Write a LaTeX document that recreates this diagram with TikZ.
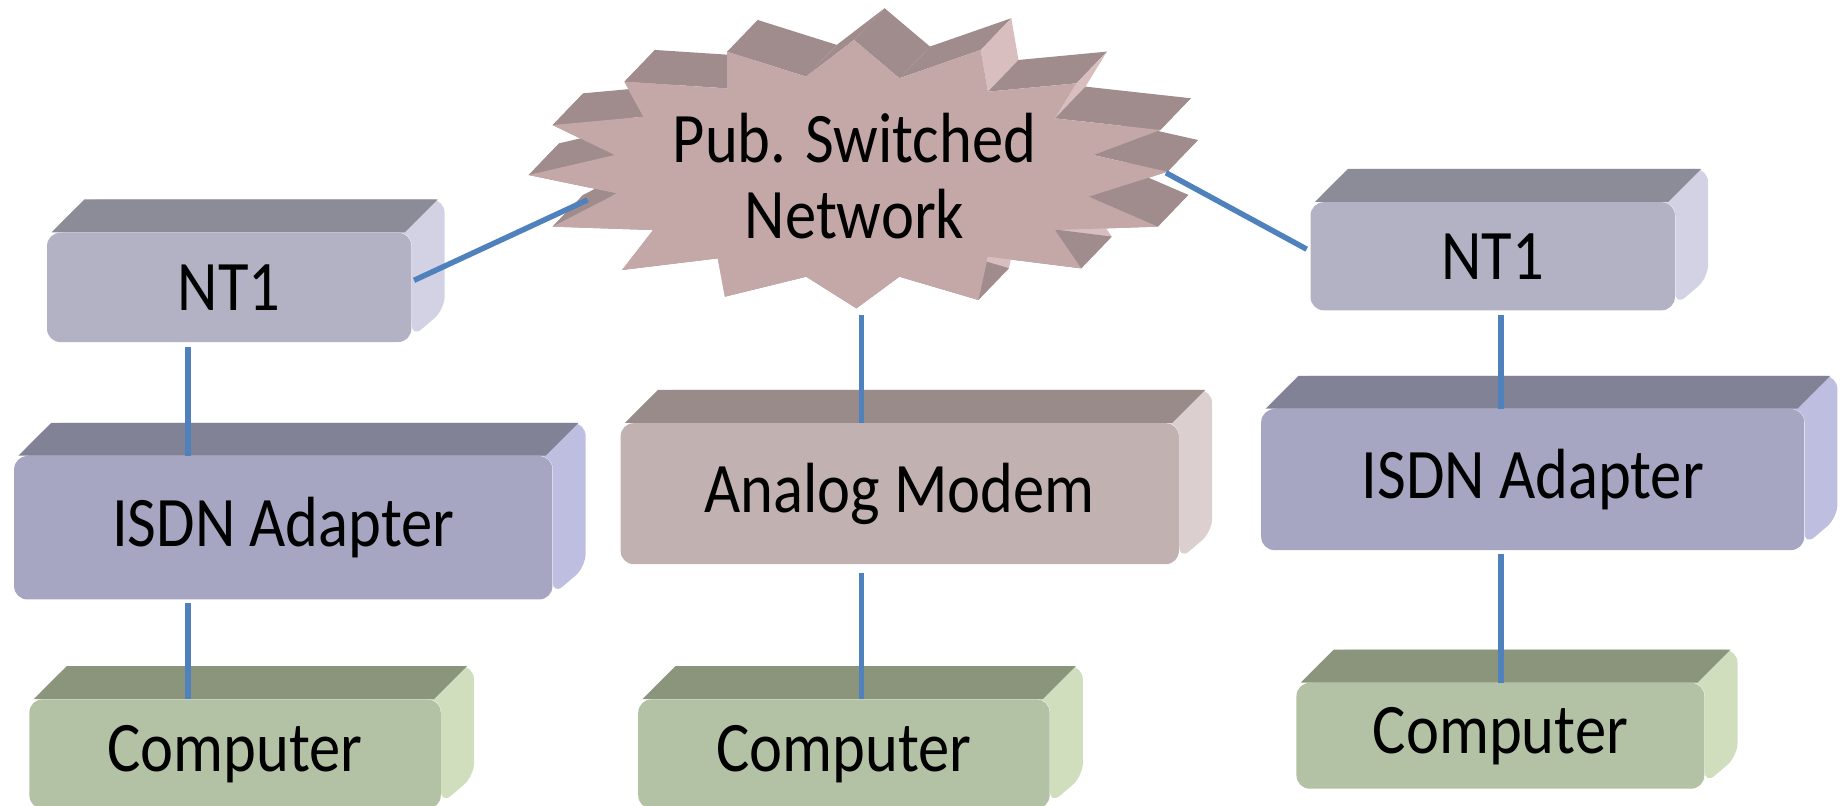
\documentclass[tikz,border=0pt]{standalone}
\usepackage{fontspec}
\setmainfont{Carlito}[FakeStretch=0.88]
\usetikzlibrary{backgrounds,calc}
\definecolor{linkblue}{HTML}{4F81BD}
\definecolor{ntfront}{HTML}{B3B2C4}
\definecolor{nttop}{HTML}{8C8B98}
\definecolor{ntside}{HTML}{D2D2E4}
\definecolor{isfront}{HTML}{A6A6C3}
\definecolor{istop}{HTML}{828297}
\definecolor{isside}{HTML}{BEBFE0}
\definecolor{mofront}{HTML}{C2B1B1}
\definecolor{motop}{HTML}{9A8B8B}
\definecolor{moside}{HTML}{DCCFCF}
\definecolor{cofront}{HTML}{B3C2A5}
\definecolor{cotop}{HTML}{8B957B}
\definecolor{coside}{HTML}{D0DEBD}
\definecolor{clfront}{HTML}{C4A8A8}
\definecolor{cldark}{HTML}{A08C8C}
\definecolor{cllight}{HTML}{D8BEBE}
\newcommand\tdbox[9]{%
  \node[face, fill=#6, minimum width={#4*0.025cm}, minimum height={#5*0.025cm}] (#1) at (#2,#3) {#9};
  \begin{scope}[on background layer]
    \fill[#8, rounded corners=8] ($(#1.north west)+(4,0)$) -- ++(28,-28) -- ($(#1.north east)+(28,-28)$)
      -- ($(#1.south east)+(28,-28)$) -- ($(#1.south east)+(0,-4)$) -- (#1.north east) -- cycle;
    \fill[#7] ($(#1.north west)+(4,0)$) -- ++(28,-28) -- ($(#1.north east)+(22,-28)$) -- ($(#1.north east)+(-6,0)$) -- cycle;
  \end{scope}}
\begin{document}
\begin{tikzpicture}[x=0.025cm,y=-0.025cm,
  face/.style={rectangle, rounded corners=8, inner sep=0pt, font=\fontsize{43}{46}\selectfont, text=black},
  link/.style={draw=linkblue, line width=3.3pt}]
\useasboundingbox (0,0) rectangle (1568,685);

% cloud
\begin{scope}[on background layer]
\foreach \x/\y [remember=\x as \px (initially 685.9), remember=\y as \py (initially 65.2)] in
 {726.6/34.0, 765.2/66.6, 834.4/42.5, 840.5/78.0, 915.8/70.9, 897.5/100.7, 987.1/110.6, 930.1/131.9,
  993.2/146.1, 926.0/167.3, 985.0/192.8, 897.5/195.7, 919.9/228.3, 840.5/218.4, 832.4/255.2, 765.2/235.4,
  728.6/262.3, 685.9/235.4, 616.7/252.4, 610.6/219.8, 529.2/229.7, 555.6/195.7, 470.2/192.8, 525.1/164.5,
  449.8/148.9, 523.1/131.9, 470.2/106.4, 547.5/99.3, 531.2/69.5, 618.7/75.2, 618.7/44.0, 685.9/65.2}
{
  \pgfmathparse{abs(\y-\py)>abs(\x-\px)?1:0}
  \ifnum\pgfmathresult=1
    \fill[cllight] (\px,\py) -- (\x,\y) -- (\x+26,\y-27) -- (\px+26,\py-27) -- cycle;
  \else
    \fill[cldark] (\px,\py) -- (\x,\y) -- (\x+26,\y-27) -- (\px+26,\py-27) -- cycle;
  \fi
}
\end{scope}
\fill[clfront] (726.6,34.0) -- (765.2,66.6) -- (834.4,42.5) -- (840.5,78.0) -- (915.8,70.9) -- (897.5,100.7) -- (987.1,110.6) -- (930.1,131.9) --
  (993.2,146.1) -- (926.0,167.3) -- (985.0,192.8) -- (897.5,195.7) -- (919.9,228.3) -- (840.5,218.4) -- (832.4,255.2) -- (765.2,235.4) --
  (728.6,262.3) -- (685.9,235.4) -- (616.7,252.4) -- (610.6,219.8) -- (529.2,229.7) -- (555.6,195.7) -- (470.2,192.8) -- (525.1,164.5) --
  (449.8,148.9) -- (523.1,131.9) -- (470.2,106.4) -- (547.5,99.3) -- (531.2,69.5) -- (618.7,75.2) -- (618.7,44.0) -- (685.9,65.2) -- cycle;
\node[face, align=center] (net) at (727,150) {Pub. Switched\\Network};

% boxes
\tdbox{nt1L}{195}{244.5}{310}{93}{ntfront}{nttop}{ntside}{NT1}
\tdbox{isdnL}{241}{449}{458}{122}{isfront}{istop}{isside}{ISDN Adapter}
\tdbox{compL}{200}{641.5}{350}{93}{cofront}{cotop}{coside}{Computer}
\tdbox{modem}{765.5}{420}{475}{120}{mofront}{motop}{moside}{Analog Modem}
\tdbox{compM}{718}{641.5}{350}{93}{cofront}{cotop}{coside}{Computer}
\tdbox{nt1R}{1270}{218}{310}{92}{ntfront}{nttop}{ntside}{NT1}
\tdbox{isdnR}{1304}{408}{462}{120}{isfront}{istop}{isside}{ISDN Adapter}
\tdbox{compR}{1276.5}{626}{347}{90}{cofront}{cotop}{coside}{Computer}

% connection points
\coordinate (cL) at (500,170);
\coordinate (cR) at (992,147);
\coordinate (cB) at (733,268);
\coordinate (xL) at (160,0);
\coordinate (xR) at (1277,0);

\draw[link] ($(nt1L.east)+(2,-6)$) -- (cL);
\draw[link] (cR) -- ($(nt1R.west)+(-3,-6)$);
\draw[link] (cB) -- (modem.north -| cB);
\draw[link] ($(modem.south -| cB)+(0,7)$) -- (compM.north -| cB);
\draw[link] ($(nt1L.south -| xL)+(0,4)$) -- (isdnL.north -| xL);
\draw[link] ($(isdnL.south -| xL)+(0,3)$) -- (compL.north -| xL);
\draw[link] ($(nt1R.south -| xR)+(0,4)$) -- (isdnR.north -| xR);
\draw[link] ($(isdnR.south -| xR)+(0,3)$) -- (compR.north -| xR);
\end{tikzpicture}
\end{document}
